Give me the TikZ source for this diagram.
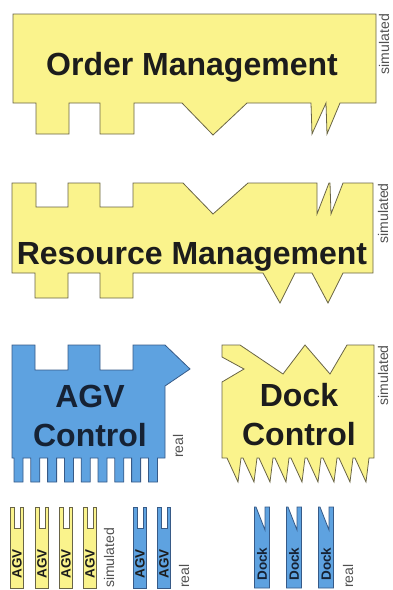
\documentclass[tikz,border=0pt]{standalone}
\usepackage{fontspec}
\setmainfont{Liberation Sans}
\definecolor{boxyellow}{RGB}{250,243,140}
\definecolor{edgeyellow}{RGB}{105,100,70}
\definecolor{boxblue}{RGB}{94,162,224}
\definecolor{edgeblue}{RGB}{55,90,135}
\definecolor{inkdark}{RGB}{28,28,28}
\definecolor{inknavy}{RGB}{22,34,52}
\definecolor{inkgray}{RGB}{80,80,80}
\tikzset{
  simbox/.style={fill=boxyellow, draw=edgeyellow, line width=0.8pt},
  realbox/.style={fill=boxblue, draw=edgeblue, line width=0.8pt},
  title/.style={font=\fontsize{32}{39}\selectfont\bfseries, text=inkdark, align=center, inner sep=0pt},
  side/.style={font=\fontsize{14}{14}\selectfont, text=inkgray, rotate=90, inner sep=0pt},
  tag/.style={font=\fontsize{13.5}{14}\selectfont\bfseries, text=inkdark, rotate=90, inner sep=0pt},
}
\begin{document}
\begin{tikzpicture}[x=1pt, y=-1pt]
	\useasboundingbox (0,0) rectangle (392,590);
	
	% ORDER MANAGEMENT
	\filldraw[simbox] (13,14) -- (376,14) -- (376,103) -- (340,103) -- (327,134) -- (326,103)
		-- (312,134) -- (311,103) -- (247,103) -- (213,135) -- (182,103) -- (134,103)
		-- (134,134) -- (100,134) -- (100,103) -- (69,103) -- (69,134) -- (36,134)
		-- (36,103) -- (13,103) -- cycle;
	\node[title, anchor=base] (order) at (192,75) {Order Management};
	\node[side, anchor=east] (ordersim) at (384,14) {simulated};
	
	% RESOURCE MANAGEMENT
	\filldraw[simbox] (12,183) -- (36,183) -- (36,207) -- (68,207) -- (68,183) -- (100,183)
		-- (100,207) -- (133,207) -- (133,183) -- (183,183) -- (213,214) -- (248,183)
		-- (317,183) -- (317,214) -- (329,183) -- (330,183) -- (331,214) -- (343,183)
		-- (373,183) -- (373,273) -- (343,273) -- (328,303) -- (312,273) -- (295,273)
		-- (280,303) -- (263,273) -- (133,273) -- (133,298) -- (100,298) -- (100,273)
		-- (68,273) -- (68,298) -- (35,298) -- (35,273) -- (12,273) -- cycle;
	\node[title, anchor=base] (resource) at (192,264) {Resource Management};
	\node[side, anchor=east] (resourcesim) at (383,183) {simulated};
	
	% AGV CONTROL
	\filldraw[realbox] (12,345) -- (35,345) -- (35,370) -- (68,370) -- (68,345) -- (100,345)
		-- (100,370) -- (133,370) -- (133,345) -- (165,345) -- (190,369) -- (165,386)
		-- (165,458)
		foreach \i in {8,...,0} {
			-- ({14+16.8*\i+9},458) -- ({14+16.8*\i+9},482) -- ({14+16.8*\i},482) -- ({14+16.8*\i},458)
		}
		-- (12,458) -- cycle;
	\node[title, text=inknavy, anchor=north] (agv) at (90,385) {AGV\\Control};
	\node[side, anchor=west] (agvreal) at (178,458) {real};
	
	% DOCK CONTROL
	\filldraw[simbox] (222,345) -- (240,345) -- (283,374) -- (305,345) -- (330,374) -- (347,345)
		-- (374,345) -- (374,458)
		foreach \i in {8,...,0} {
			-- ({241+16*\i},458) -- ({238+16*\i},482) -- ({227+16*\i},458)
		}
		-- (222,458) -- (222,382) -- (244,369) -- (222,357) -- cycle;
	\node[title, anchor=north] (dock) at (299,383) {Dock\\Control};
	\node[side, anchor=east] (docksim) at (383,345) {simulated};
	
	% AGV PIECES
	\foreach \x/\kind in {17/simbox, 42/simbox, 66/simbox, 90/simbox, 140/realbox, 164/realbox} {
		\filldraw[\kind] ({\x-6.5},588) -- ({\x-6.5},507) -- ({\x-3},507) -- ({\x-3},528)
			-- ({\x+3},528) -- ({\x+3},507) -- ({\x+6.5},507) -- ({\x+6.5},588) -- cycle;
		\node[tag] (agvpiece\x) at ({\x},564) {AGV};
	}
	\node[side, anchor=west] (piecesim) at (109,588) {simulated};
	\node[side, anchor=west] (piecereal) at (184,588) {real};
	
	% DOCK PIECES
	\foreach \x in {262,294,326} {
		\filldraw[realbox] ({\x-7.5},588) -- ({\x-7.5},507) -- ({\x-6},507) -- ({\x+3},530)
			-- ({\x+3},507) -- ({\x+7.5},507) -- ({\x+7.5},588) -- cycle;
		\node[tag, text=inknavy] (dockpiece\x) at ({\x},564) {Dock};
	}
	\node[side, anchor=west] (dockreal) at (348,588) {real};
\end{tikzpicture}
\end{document}
